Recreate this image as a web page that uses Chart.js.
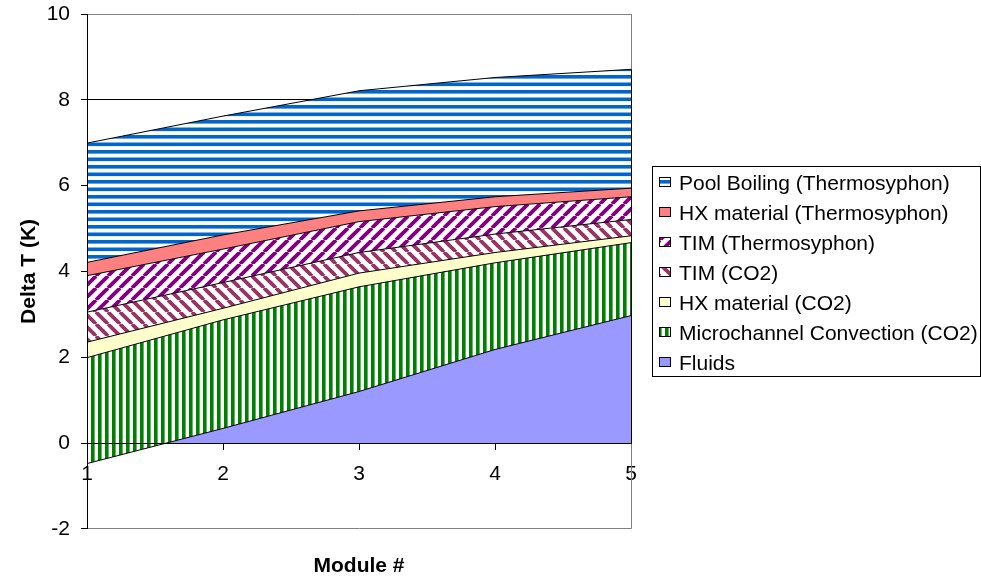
<!DOCTYPE html>
<html>
<head>
<meta charset="utf-8">
<script src="https://cdn.jsdelivr.net/npm/chart.js@4.4.1/dist/chart.umd.min.js"></script>
<style>
  html, body { margin: 0; padding: 0; background: #ffffff; }
  canvas { display: block; }
</style>
</head>
<body>
<canvas id="chart" width="981" height="579"></canvas>
<script>
// Temperature-difference budget per module, stacked from the bottom (Fluids) upward.
const modules = ['1', '2', '3', '4', '5'];
const fluids = [-0.48, 0.34, 1.20, 2.18, 2.97];
const microchannelCO2 = [2.47, 2.53, 2.44, 2.02, 1.70];
const hxMaterialCO2 = [0.36, 0.27, 0.32, 0.24, 0.16];
const timCO2 = [0.70, 0.60, 0.48, 0.43, 0.38];
const timThermosyphon = [0.85, 0.78, 0.72, 0.64, 0.53];
const hxMaterialThermosyphon = [0.31, 0.33, 0.25, 0.23, 0.20];
const poolBoiling = [2.78, 2.77, 2.80, 2.78, 2.77];

const yTicks = [-2, 0, 2, 4, 6, 8, 10];

const FONT = "'Liberation Sans', Arial, sans-serif";
Chart.defaults.font.family = FONT;
Chart.defaults.color = '#000000';

// ---- hatch fills -------------------------------------------------------
function tile(w, h, paint) {
  const c = document.createElement('canvas');
  c.width = w; c.height = h;
  const g = c.getContext('2d');
  g.fillStyle = '#ffffff';
  g.fillRect(0, 0, w, h);
  paint(g, w, h);
  return g.createPattern(c, 'repeat');
}

const horizontalBlue = tile(8, 15, (g, w) => {
  g.fillStyle = '#0066CC';
  g.fillRect(0, 0, w, 3.6);
  g.fillRect(0, 7.5, w, 3.6);
});
const verticalGreen = tile(14, 4, (g, w, h) => {
  g.fillStyle = '#008000';
  g.fillRect(0, 0, 3.6, h);
  g.fillRect(7, 0, 3.6, h);
});
function diagonal(color, up, size, width) {
  return tile(size, size, (g, w, h) => {
    g.strokeStyle = color;
    g.lineWidth = width;
    for (let k = -1; k <= 1; k++) {
      const x = k * size;
      g.beginPath();
      if (up) { g.moveTo(x, size); g.lineTo(x + size, 0); }
      else { g.moveTo(x, 0); g.lineTo(x + size, size); }
      g.stroke();
    }
  });
}
const timThermoFill = diagonal('#800080', true, 12, 3.8);
const timCO2Fill = diagonal('#993366', false, 12, 3.8);

// ---- datasets ----------------------------------------------------------
function layer(label, values, fill, background) {
  return {
    label: label,
    data: values,
    borderColor: '#000000',
    borderWidth: 1,
    backgroundColor: background,
    fill: fill,
    pointRadius: 0,
    pointHoverRadius: 0,
    tension: 0
  };
}

const datasets = [
  layer('Fluids', fluids, { target: 'origin', above: '#9999FF', below: 'rgba(0,0,0,0)' }, '#9999FF'),
  layer('Microchannel Convection (CO2)', microchannelCO2, '-1', verticalGreen),
  layer('HX material (CO2)', hxMaterialCO2, '-1', '#FFFFCC'),
  layer('TIM (CO2)', timCO2, '-1', timCO2Fill),
  layer('TIM (Thermosyphon)', timThermosyphon, '-1', timThermoFill),
  layer('HX material (Thermosyphon)', hxMaterialThermosyphon, '-1', '#FF8080'),
  layer('Pool Boiling (Thermosyphon)', poolBoiling, '-1', horizontalBlue)
];

// ---- plot frame and side legend ---------------------------------------
const frame = {
  id: 'frame',
  beforeDatasetsDraw(chart) {
    const { ctx, chartArea: a } = chart;
    ctx.save();
    ctx.strokeStyle = '#808080';
    ctx.lineWidth = 1;
    ctx.beginPath();
    ctx.moveTo(Math.round(a.right) + 0.5, a.top);
    ctx.lineTo(Math.round(a.right) + 0.5, a.bottom);
    ctx.stroke();
    ctx.restore();
  },
  afterDatasetsDraw(chart) {
    // closing edge of the stacked areas at the last module
    const { ctx } = chart;
    const y = chart.scales.y;
    const top = chart.getDatasetMeta(chart.data.datasets.length - 1).data[modules.length - 1];
    const x = Math.round(top.x) + 0.5;
    ctx.save();
    ctx.strokeStyle = '#000000';
    ctx.lineWidth = 1;
    ctx.beginPath();
    ctx.moveTo(x, y.getPixelForValue(0));
    ctx.lineTo(x, top.y);
    ctx.stroke();
    ctx.restore();
  }
};

const sideLegend = {
  id: 'sideLegend',
  afterDraw(chart) {
    const { ctx, chartArea: a } = chart;
    const left = Math.round(a.right) + 21;
    const right = chart.width - 1;
    const mid = (a.top + a.bottom) / 2;
    const top = Math.round(mid - 105);
    const bottom = top + 210;
    ctx.save();
    ctx.fillStyle = '#ffffff';
    ctx.fillRect(left, top, right - left, bottom - top);
    ctx.strokeStyle = '#000000';
    ctx.lineWidth = 1;
    ctx.strokeRect(left + 0.5, top + 0.5, right - left, bottom - top);

    ctx.font = '21px ' + FONT;
    ctx.textBaseline = 'alphabetic';
    ctx.textAlign = 'left';
    const items = chart.data.datasets.slice().reverse();
    items.forEach((ds, i) => {
      const baseline = top + 23.5 + i * 30;
      const bx = left + 7, by = baseline - 12.5;
      ctx.fillStyle = ds.backgroundColor;
      ctx.fillRect(bx, by, 12, 10);
      ctx.strokeStyle = '#000000';
      ctx.strokeRect(bx + 0.5, by + 0.5, 11, 9);
      ctx.fillStyle = '#000000';
      ctx.fillText(ds.label, left + 27, baseline);
    });
    ctx.restore();
  }
};

new Chart(document.getElementById('chart'), {
  type: 'line',
  data: { labels: modules, datasets: datasets },
  options: {
    responsive: false,
    devicePixelRatio: 1,
    animation: false,
    events: [],
    layout: { padding: { top: 14, right: 350, bottom: 0, left: 0 } },
    plugins: {
      legend: { display: false },
      tooltip: { enabled: false },
      title: {
        display: true,
        text: 'Module #',
        position: 'bottom',
        fullSize: false,
        color: '#000000',
        font: { size: 21, weight: 'bold', family: FONT },
        padding: { top: 25, bottom: 0 }
      },
      filler: { propagate: false }
    },
    scales: {
      x: {
        type: 'category',
        position: { y: 0 },
        offset: false,
        afterFit(scale) {
          scale.height = 0;
          scale.paddingTop = 0; scale.paddingBottom = 0;
          scale.paddingLeft = 0; scale.paddingRight = 0;
        },
        grid: {
          drawOnChartArea: false,
          drawTicks: true,
          tickLength: 6,
          color: '#000000'
        },
        border: { display: true, color: '#000000', width: 1, z: 1 },
        ticks: {
          color: '#000000',
          font: { size: 21, family: FONT },
          padding: 13,
          maxRotation: 0,
          autoSkip: false
        }
      },
      y: {
        type: 'linear',
        stacked: 'single',
        min: -2,
        max: 10,
        afterFit(scale) {
          scale.width = 87;
          scale.paddingTop = 0; scale.paddingBottom = 0;
        },
        afterBuildTicks(scale) { scale.ticks = yTicks.map(v => ({ value: v })); },
        grid: {
          color: (c) => (c.tick && (c.tick.value === 10 || c.tick.value === -2)) ? '#808080' : '#000000',
          tickColor: '#000000',
          tickLength: 6,
          lineWidth: 1
        },
        border: { display: true, color: '#000000', width: 1, z: 1 },
        ticks: {
          color: '#000000',
          font: { size: 21, family: FONT },
          padding: 11
        },
        title: {
          display: true,
          text: 'Delta T (K)',
          color: '#000000',
          font: { size: 21, weight: 'bold', family: FONT },
          padding: { top: 17, bottom: 0 }
        }
      }
    }
  },
  plugins: [frame, sideLegend]
});
</script>
</body>
</html>
